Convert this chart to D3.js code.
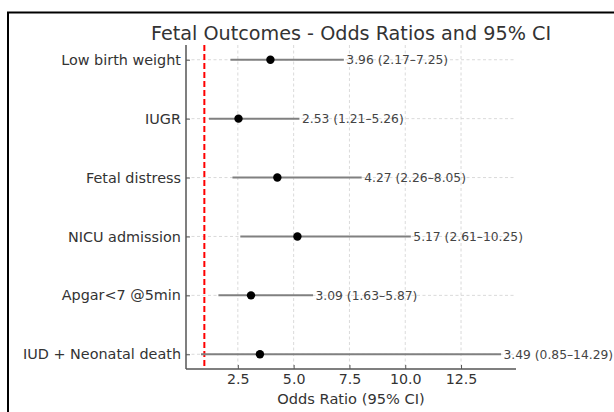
<!DOCTYPE html>
<html>
<head>
<meta charset="utf-8">
<script src="https://cdn.jsdelivr.net/npm/d3@7"></script>
<style>
  html, body { margin: 0; padding: 0; background: #fff; }
  svg { display: block; }
  text { font-family: "DejaVu Sans", sans-serif; }
</style>
</head>
<body>
<svg id="chart" width="614" height="412"></svg>
<script>
const outcomes = ["Low birth weight", "IUGR", "Fetal distress", "NICU admission", "Apgar<7 @5min", "IUD + Neonatal death"];
const oddsRatios = [3.96, 2.53, 4.27, 5.17, 3.09, 3.49];
const ciLow = [2.17, 1.21, 2.26, 2.61, 1.63, 0.85];
const ciHigh = [7.25, 5.26, 8.05, 10.25, 5.87, 14.29];
const xTicks = [2.5, 5.0, 7.5, 10.0, 12.5];
const referenceLine = 1;

(function () {
const svg = d3.select("#chart");
const pLeft = 186, pRight = 516, pTop = 45, pBottom = 369;

// outer frame
svg.append("rect").attr("x", 8).attr("y", 12.5).attr("width", 700).attr("height", 500)
  .attr("fill", "none").attr("stroke", "#000").attr("stroke-width", 2);

const xmin = d3.min(ciLow), xmax = d3.max(ciHigh);
const pad = (xmax - xmin) * 0.05;
const x = d3.scaleLinear().domain([xmin - pad, xmax + pad]).range([pLeft, pRight]);
const y = d3.scaleLinear().domain([-0.25, outcomes.length - 1 + 0.25]).range([pTop, pBottom]);

// grid
const g = svg.append("g");
g.selectAll(".gx").data(xTicks).join("line")
  .attr("x1", d => x(d)).attr("x2", d => x(d)).attr("y1", pTop).attr("y2", pBottom)
  .attr("stroke", "#d0d0d0").attr("stroke-width", 0.8).attr("stroke-dasharray", "3,2.5");
g.selectAll(".gy").data(outcomes).join("line")
  .attr("x1", pLeft).attr("x2", pRight).attr("y1", (d, i) => y(i)).attr("y2", (d, i) => y(i))
  .attr("stroke", "#d0d0d0").attr("stroke-width", 0.8).attr("stroke-dasharray", "3,2.5");

// reference line
svg.append("line").attr("x1", x(referenceLine)).attr("x2", x(referenceLine))
  .attr("y1", pTop).attr("y2", pBottom)
  .attr("stroke", "#ff0000").attr("stroke-width", 2).attr("stroke-dasharray", "6,3");

// CI lines
svg.selectAll(".ci").data(outcomes).join("line")
  .attr("x1", (d, i) => x(ciLow[i])).attr("x2", (d, i) => x(ciHigh[i]))
  .attr("y1", (d, i) => y(i)).attr("y2", (d, i) => y(i))
  .attr("stroke", "#808080").attr("stroke-width", 2);

// points
svg.selectAll(".pt").data(outcomes).join("circle")
  .attr("cx", (d, i) => x(oddsRatios[i])).attr("cy", (d, i) => y(i)).attr("r", 4.2)
  .attr("fill", "#000");

// annotations
svg.selectAll(".ann").data(outcomes).join("text")
  .attr("x", (d, i) => x(ciHigh[i]) + 2.5).attr("y", (d, i) => y(i))
  .attr("dy", "0.36em").attr("font-size", 12.3).attr("fill", "#444")
  .text((d, i) => `${oddsRatios[i].toFixed(2)} (${ciLow[i].toFixed(2)}–${ciHigh[i].toFixed(2)})`);

// axes
const spine = "#555";
const xAxis = d3.axisBottom(x).tickValues(xTicks).tickFormat(d3.format(".1f")).tickSize(-4).tickPadding(5);
const xa = svg.append("g").attr("transform", `translate(0,${pBottom})`).call(xAxis);
xa.select(".domain").attr("d", `M${pLeft},0H${pRight}`).attr("stroke", spine).attr("stroke-width", 1.5);
xa.selectAll(".tick line").attr("stroke", spine);
xa.selectAll(".tick text").attr("font-size", 14.2).attr("fill", "#333").attr("font-family", "DejaVu Sans");

const yAxis = d3.axisLeft(y).tickValues(d3.range(outcomes.length)).tickFormat(i => outcomes[i]).tickSize(-4).tickPadding(5);
const ya = svg.append("g").attr("transform", `translate(${pLeft},0)`).call(yAxis);
ya.select(".domain").attr("d", `M0,${pTop}V${pBottom}`).attr("stroke", spine).attr("stroke-width", 1.5);
ya.selectAll(".tick line").attr("stroke", spine);
ya.selectAll(".tick text").attr("font-size", 14.4).attr("fill", "#333").attr("font-family", "DejaVu Sans");

// title & label
svg.append("text").attr("x", (pLeft + pRight) / 2).attr("y", 40).attr("text-anchor", "middle")
  .attr("font-size", 19.2).attr("fill", "#333").text("Fetal Outcomes - Odds Ratios and 95% CI");
svg.append("text").attr("x", (pLeft + pRight) / 2).attr("y", 403.5).attr("text-anchor", "middle")
  .attr("font-size", 14.6).attr("fill", "#333").text("Odds Ratio (95% CI)");
})();
</script>
</body>
</html>
